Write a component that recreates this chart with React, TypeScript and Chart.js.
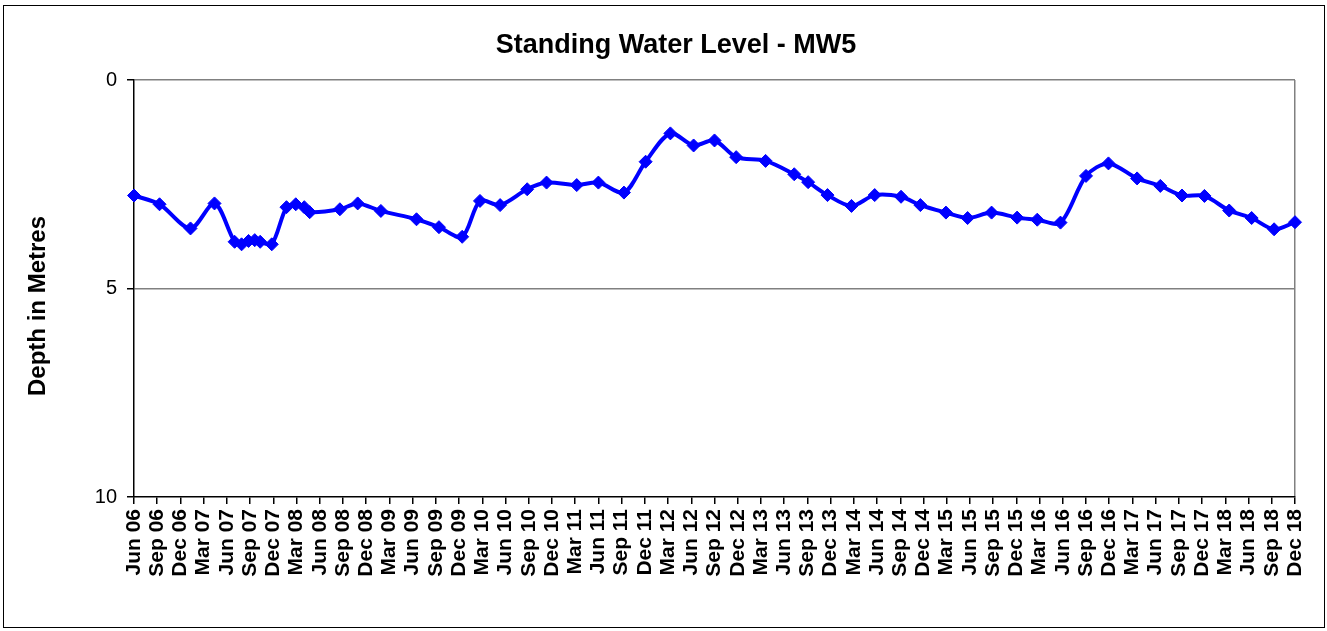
import React, { useEffect, useRef } from "react";
import { Chart, registerables } from "chart.js";

Chart.register(...registerables);

const TITLE = "Standing Water Level - MW5";
const Y_TITLE = "Depth in Metres";

// Tick labels, one per quarter starting Jun 2006 (x = 0, 3, 6, ... months)
const TICK_LABELS = [
  "Jun 06", "Sep 06", "Dec 06",
  "Mar 07", "Jun 07", "Sep 07", "Dec 07",
  "Mar 08", "Jun 08", "Sep 08", "Dec 08",
  "Mar 09", "Jun 09", "Sep 09", "Dec 09",
  "Mar 10", "Jun 10", "Sep 10", "Dec 10",
  "Mar 11", "Jun 11", "Sep 11", "Dec 11",
  "Mar 12", "Jun 12", "Sep 12", "Dec 12",
  "Mar 13", "Jun 13", "Sep 13", "Dec 13",
  "Mar 14", "Jun 14", "Sep 14", "Dec 14",
  "Mar 15", "Jun 15", "Sep 15", "Dec 15",
  "Mar 16", "Jun 16", "Sep 16", "Dec 16",
  "Mar 17", "Jun 17", "Sep 17", "Dec 17",
  "Mar 18", "Jun 18", "Sep 18", "Dec 18",
];

// Sample times in months after Jun 2006
const SAMPLE_MONTHS = [
  0, 3.3, 7.3, 10.4, 13.0, 13.9, 14.8, 15.6, 16.3, 17.8,
  19.7, 20.9, 22.0, 22.7, 26.6, 28.9, 31.9, 36.5, 39.4, 42.4,
  44.7, 47.3, 50.8, 53.3, 57.2, 60.0, 63.3, 66.1, 69.3, 72.3,
  75.0, 77.8, 81.6, 85.3, 87.1, 89.6, 92.7, 95.7, 99.1, 101.6,
  104.9, 107.7, 110.8, 114.1, 116.7, 119.7, 123.0, 125.9, 129.6, 132.6,
  135.4, 138.3, 141.5, 144.4, 147.3, 150.0,
];

// Depth to water (m)
const DEPTHS = [
  2.77, 2.98, 3.56, 2.96, 3.88, 3.94, 3.86, 3.84, 3.88, 3.94,
  3.05, 2.98, 3.05, 3.17, 3.10, 2.96, 3.14, 3.34, 3.53, 3.76,
  2.90, 3.00, 2.62, 2.46, 2.52, 2.46, 2.70, 1.96, 1.28, 1.57,
  1.45, 1.85, 1.94, 2.26, 2.45, 2.76, 3.02, 2.76, 2.80, 3.00,
  3.18, 3.31, 3.18, 3.30, 3.35, 3.42, 2.30, 2.00, 2.36, 2.54,
  2.77, 2.78, 3.13, 3.31, 3.58, 3.41,
];

const FONT = '"Liberation Sans", Arial, sans-serif';

const decorPlugin = {
  id: "decor",
  beforeDraw(chart: any) {
    const ctx = chart.ctx;
    ctx.save();
    ctx.fillStyle = "#ffffff";
    ctx.fillRect(0, 0, chart.width, chart.height);
    ctx.restore();
  },
  afterDraw(chart: any) {
    const ctx = chart.ctx;
    ctx.save();
    ctx.strokeStyle = "#000000";
    ctx.lineWidth = 1;
    ctx.strokeRect(3.5, 5.5, 1321, 622);
    ctx.fillStyle = "#000000";
    ctx.textAlign = "center";
    ctx.textBaseline = "middle";
    ctx.font = `bold 27px ${FONT}`;
    ctx.fillText(TITLE, 676, 46);
    ctx.translate(38, 306);
    ctx.rotate(-Math.PI / 2);
    ctx.font = `bold 24px ${FONT}`;
    ctx.fillText(Y_TITLE, 0, 0);
    ctx.restore();
  },
};

export default function App() {
  const ref = useRef<HTMLCanvasElement | null>(null);

  useEffect(() => {
    if (!ref.current) return;
    const points = SAMPLE_MONTHS.map((m, i) => ({ x: m, y: DEPTHS[i] }));
    const chart = new Chart(ref.current, {
      type: "line",
      data: {
        datasets: [
          {
            data: points,
            borderColor: "#0000ff",
            backgroundColor: "#0000ff",
            borderWidth: 4,
            pointStyle: "rectRot",
            pointRadius: 6.5,
            pointBorderWidth: 1,
            pointBackgroundColor: "#0000ff",
            pointBorderColor: "#0000ff",
            tension: 0.3,
            clip: false as any,
          },
        ],
      },
      options: {
        animation: false,
        responsive: false,
        maintainAspectRatio: false,
        layout: { padding: { left: 0, top: 80, right: 32, bottom: 0 } },
        plugins: {
          legend: { display: false },
          title: { display: false },
          tooltip: { enabled: false },
        },
        scales: {
          x: {
            type: "linear",
            min: 0,
            max: 150,
            afterFit(scale: any) {
              scale.height = 134;
            },
            afterBuildTicks(scale: any) {
              scale.ticks = TICK_LABELS.map((_, i) => ({ value: i * 3 }));
            },
            ticks: {
              autoSkip: false,
              minRotation: 90,
              maxRotation: 90,
              padding: 5,
              color: "#000000",
              font: { family: FONT, size: 21, weight: "bold" },
              callback: (v: any) => TICK_LABELS[Math.round(Number(v) / 3)] ?? "",
            },
            grid: {
              drawOnChartArea: true,
              color: (c: any) =>
                c.tick && c.tick.value === 150 ? "#808080" : "rgba(0,0,0,0)",
              tickColor: "#000000",
              tickLength: 7,
              lineWidth: 1.5,
            },
            border: { display: true, color: "#000000", width: 1.5 },
          },
          y: {
            type: "linear",
            reverse: true,
            min: 0,
            max: 10,
            afterFit(scale: any) {
              scale.width = 134;
            },
            ticks: {
              stepSize: 5,
              padding: 10,
              color: "#000000",
              font: { family: FONT, size: 20 },
            },
            grid: {
              color: (c: any) =>
                c.tick && c.tick.value === 10 ? "rgba(0,0,0,0)" : "#808080",
              tickColor: "#000000",
              tickLength: 7,
              lineWidth: 1.5,
            },
            border: { display: true, color: "#000000", width: 1.5 },
          },
        },
      },
      plugins: [decorPlugin],
    });
    return () => chart.destroy();
  }, []);

  return (
    <div style={{ position: "absolute", left: 0, top: 0, width: 1327, height: 631 }}>
      <canvas ref={ref} width={1327} height={631} style={{ display: "block" }} />
    </div>
  );
}
